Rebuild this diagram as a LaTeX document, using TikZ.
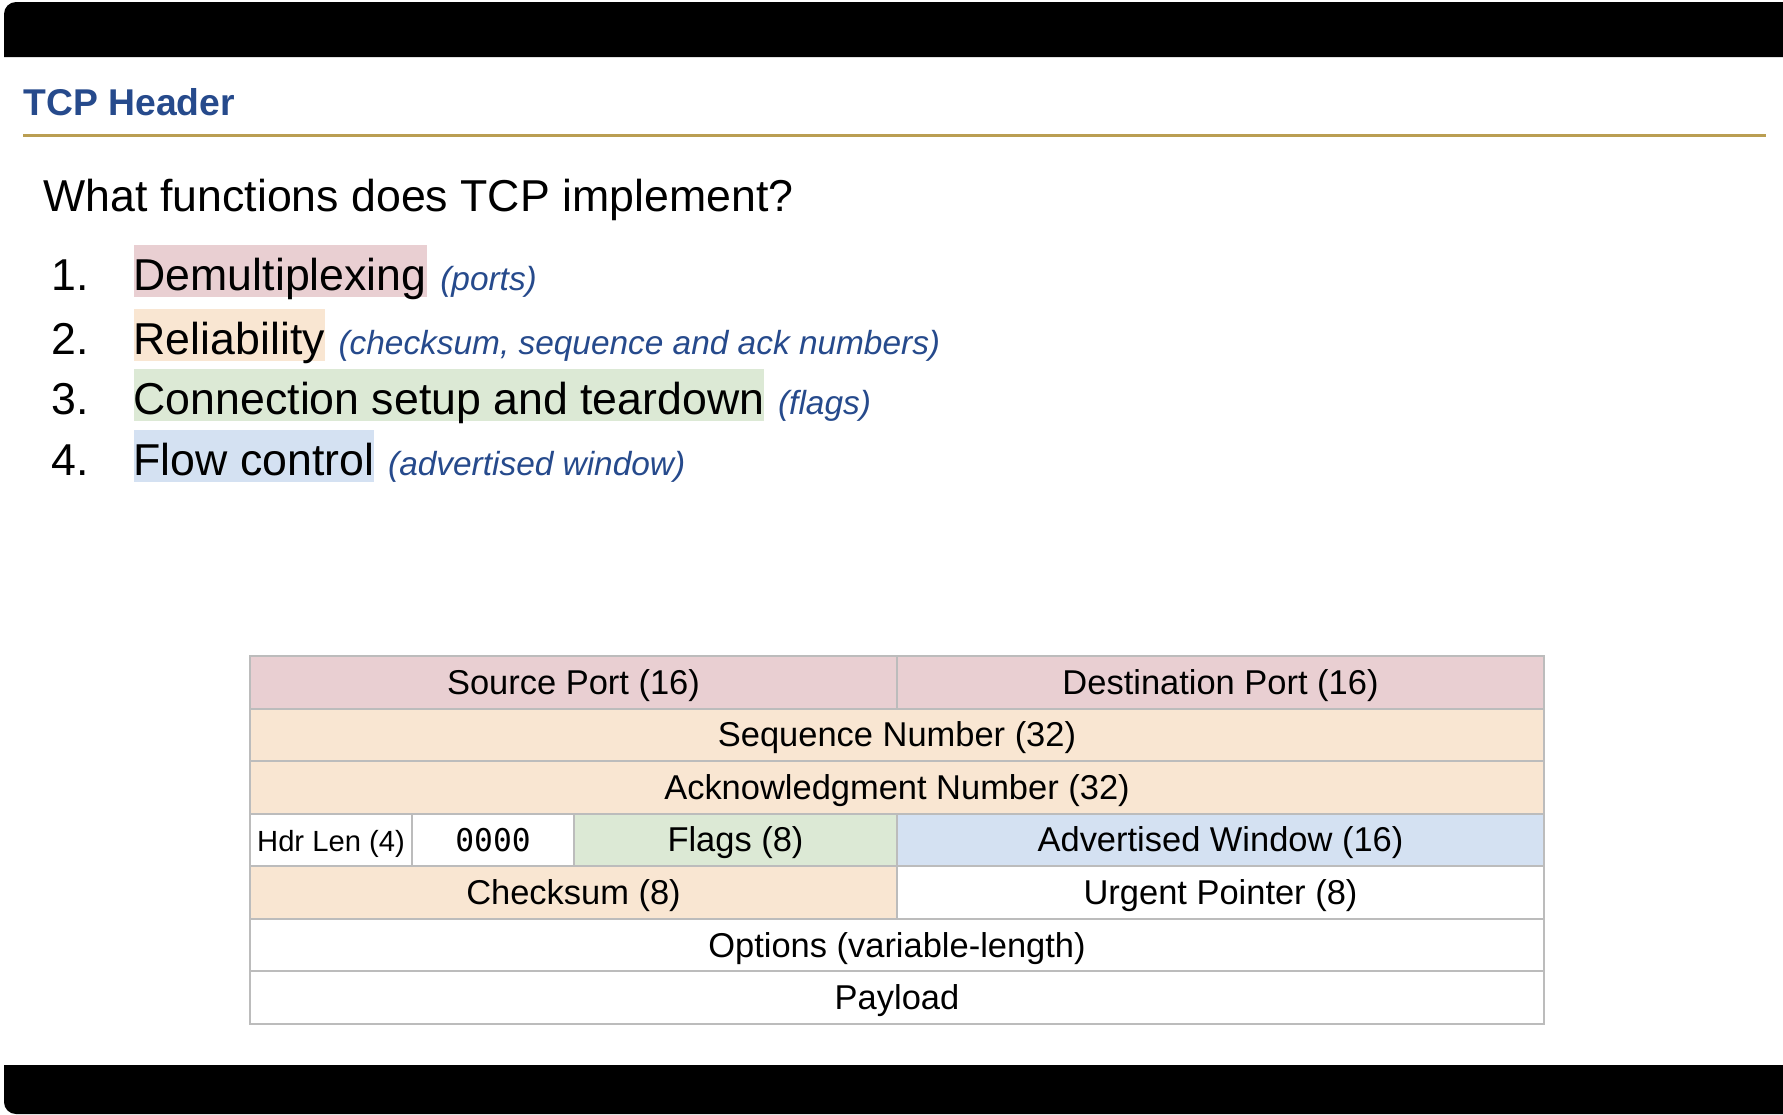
\documentclass[tikz,border=0pt]{standalone}
\usepackage{fontspec}
\setmainfont{Liberation Sans}
\setmonofont{DejaVu Sans Mono}
\usepackage{xcolor}
\usepackage{tikz}
\usetikzlibrary{positioning}
\definecolor{hdrblue}{RGB}{38,74,140}
\definecolor{rulegold}{RGB}{186,158,82}
\definecolor{portpink}{RGB}{233,207,210}
\definecolor{relorange}{RGB}{249,230,210}
\definecolor{flaggreen}{RGB}{220,233,213}
\definecolor{winblue}{RGB}{212,225,242}
\definecolor{cellgray}{RGB}{188,188,188}

\begin{document}
\begin{tikzpicture}[x=0.01cm, y=-0.01cm,
  cell/.style={draw=cellgray, line width=0.6pt, minimum height=0.526cm, inner sep=0pt,
    text height=8.7pt, text depth=2pt, font=\fontsize{9.8}{11}\selectfont},
  hilite/.style={inner xsep=0pt, inner ysep=0pt, text height=12.8pt, text depth=2pt,
    anchor=base west, font=\fontsize{12.7}{15}\selectfont},
  plain/.style={anchor=base west, inner sep=0pt, font=\fontsize{12.7}{15}\selectfont},
  note/.style={inner sep=0pt, text=hdrblue, font=\fontsize{9.5}{11}\selectfont\itshape}]

  \useasboundingbox (0,0) rectangle (1783,1114);
  \fill[white] (0,0) rectangle (1783,1114);
  % black screen bars, top and bottom
  \fill[black] (4,57) -- (4,14) arc[start angle=180, end angle=270, radius=12]
    -- (1783,2) -- (1783,57) -- cycle;
  \fill[black] (4,1065) -- (1783,1065) -- (1783,1114) -- (16,1114)
    arc[start angle=90, end angle=180, radius=12] -- cycle;

  % slide title and rule
  \node[anchor=base west, inner sep=0pt, text=hdrblue,
    font=\fontsize{10.6}{12}\selectfont\bfseries] (title) at (23,115) {TCP Header};
  \draw[rulegold, line width=0.85pt] (23,135) -- (1766,135);

  % question and numbered list
  \node[plain] (question) at (43,211) {What functions does TCP implement?};
  \foreach \i/\by/\col/\what/\why in {
      1/290/portpink/Demultiplexing/(ports),
      2/354/relorange/Reliability/{(checksum, sequence and ack numbers)},
      3/414/flaggreen/Connection setup and teardown/(flags),
      4/475/winblue/Flow control/(advertised window)}{
    \node[plain] (num\i) at (51,\by) {\i.};
    \node[hilite, fill=\col] (item\i) at (133,\by) {\what};
    \node[note, right=3.5pt of item\i.base east, anchor=base west] (note\i) {\why};
  }

  % header layout, one row per 32 bits
  \node[cell, fill=portpink, minimum width=6.47cm] (srcport) at (573.5,682.3) {Source Port (16)};
  \node[cell, fill=portpink, minimum width=6.47cm] (dstport) at (1220.5,682.3) {Destination Port (16)};
  \node[cell, fill=relorange, minimum width=12.94cm] (seqnum) at (897,734.9) {Sequence Number (32)};
  \node[cell, fill=relorange, minimum width=12.94cm] (acknum) at (897,787.4) {Acknowledgment Number (32)};
  \node[cell, fill=white, minimum width=1.62cm, font=\fontsize{8.3}{10}\selectfont] (hdrlen) at (331,840) {Hdr Len (4)};
  \node[cell, fill=white, minimum width=1.62cm, font=\fontsize{8.9}{10}\selectfont\ttfamily] (rsvd) at (493,840) {0000};
  \node[cell, fill=flaggreen, minimum width=3.23cm] (flags) at (735.5,840) {Flags (8)};
  \node[cell, fill=winblue, minimum width=6.47cm] (advwin) at (1220.5,840) {Advertised Window (16)};
  \node[cell, fill=relorange, minimum width=6.47cm] (csum) at (573.5,892.6) {Checksum (8)};
  \node[cell, fill=white, minimum width=6.47cm] (urgptr) at (1220.5,892.6) {Urgent Pointer (8)};
  \node[cell, fill=white, minimum width=12.94cm] (opts) at (897,945.2) {Options (variable-length)};
  \node[cell, fill=white, minimum width=12.94cm] (payload) at (897,997.7) {Payload};
\end{tikzpicture}
\end{document}
